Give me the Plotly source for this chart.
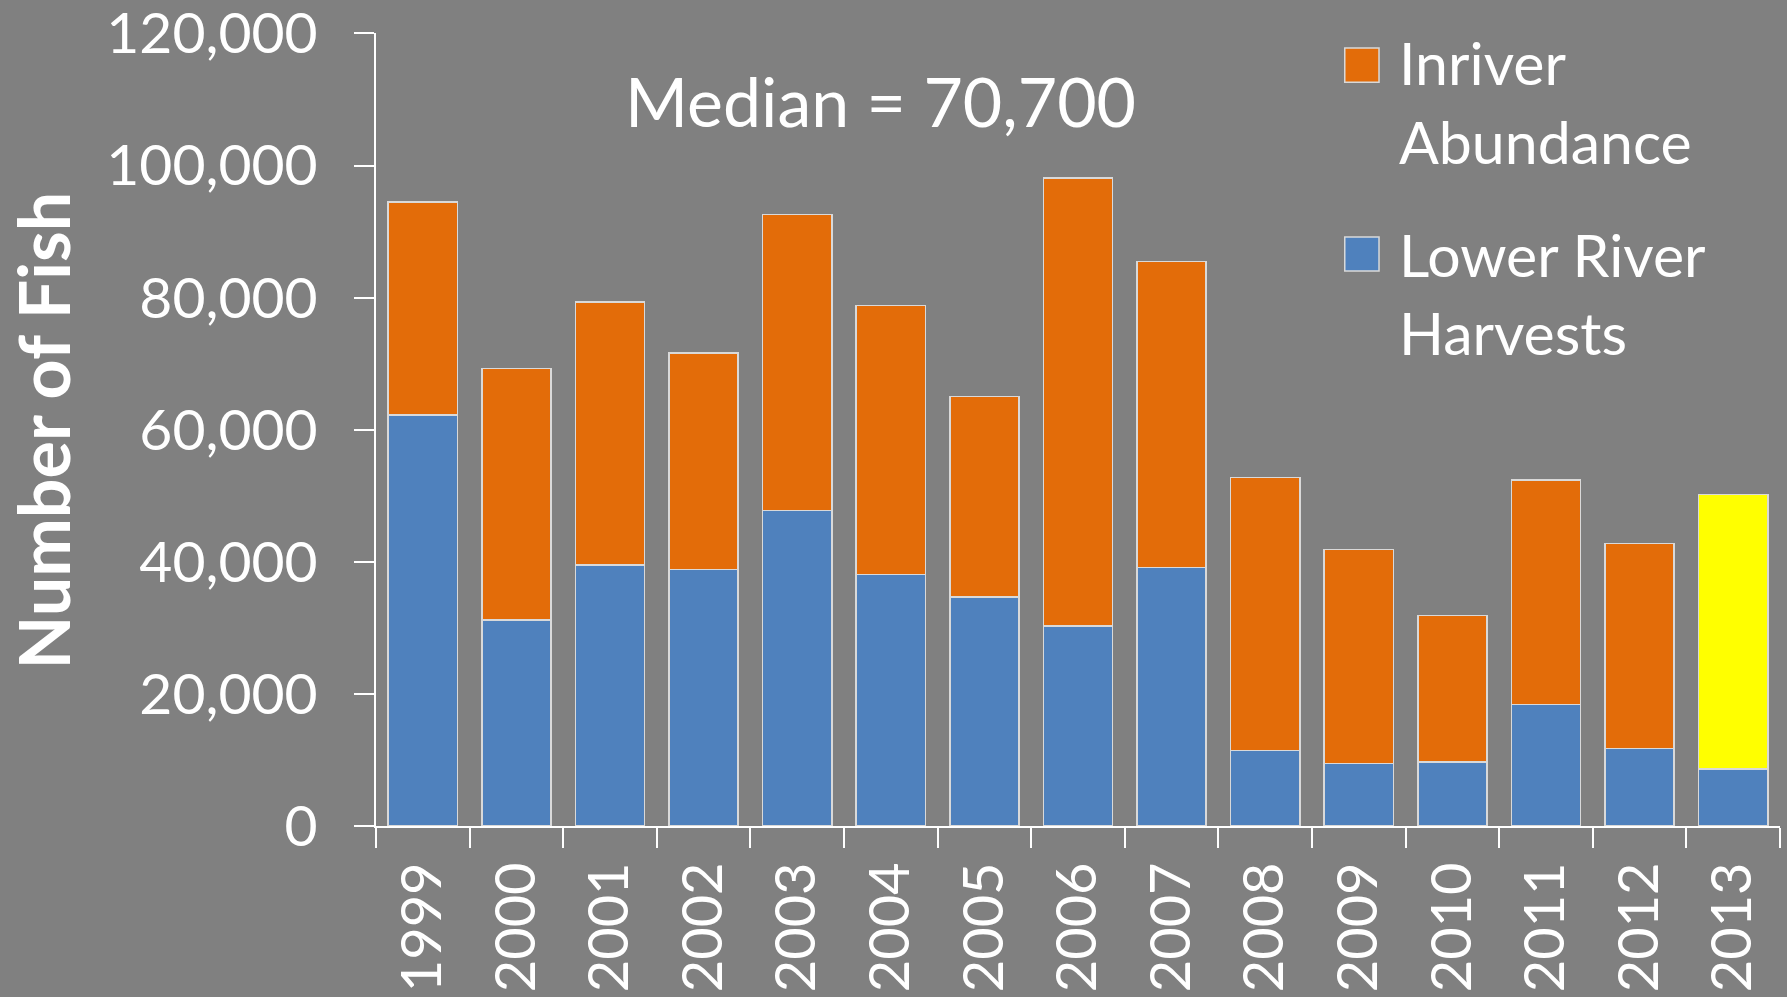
import plotly.graph_objects as go

years = ["1999", "2000", "2001", "2002", "2003", "2004", "2005", "2006",
         "2007", "2008", "2009", "2010", "2011", "2012", "2013"]
lower_river_harvests = [62200, 31200, 39500, 38800, 47800, 38100, 34700, 30300,
                        39100, 11400, 9500, 9700, 18400, 11700, 8600]
total_run = [94500, 69300, 79300, 71600, 92600, 78800, 65000, 98100,
             85500, 52800, 41900, 31900, 52400, 42800, 50200]
inriver_abundance = [t - h for t, h in zip(total_run, lower_river_harvests)]
y_ticks = [0, 20000, 40000, 60000, 80000, 100000, 120000]
median_label = "Median = 70,700"

BG = "#808080"
ORANGE = "#E36C09"
BLUE = "#4F81BD"
YELLOW = "#FFFF00"
EDGE = "#D9D9D9"
FONT = "Lato"

inriver_colors = [ORANGE] * (len(years) - 1) + [YELLOW]

fig = go.Figure()
fig.add_trace(go.Bar(x=years, y=lower_river_harvests, name="Lower River Harvests",
                     marker=dict(color=BLUE, line=dict(color=EDGE, width=1.5))))
fig.add_trace(go.Bar(x=years, y=inriver_abundance, name="Inriver Abundance",
                     marker=dict(color=inriver_colors, line=dict(color=EDGE, width=1.5))))

fig.update_layout(
    width=1787, height=997,
    barmode="stack", bargap=0.26,
    paper_bgcolor=BG, plot_bgcolor=BG,
    margin=dict(l=376, r=7, t=33, b=171, autoexpand=False),
    showlegend=False,
    font=dict(family=FONT, color="white", size=57),
)
fig.update_xaxes(
    type="category", tickson="boundaries", ticks="outside", ticklen=20,
    tickwidth=2, tickcolor="white", showline=True, linecolor="white", linewidth=2,
    tickangle=-90, tickfont=dict(family=FONT, size=56, color="white"),
    ticklabelstandoff=12, ticklabeloverflow="allow",
    showgrid=False, automargin=False,
)
fig.update_yaxes(
    range=[0, 120060], tickvals=y_ticks, tickformat=",d", ticks="outside",
    ticklen=20, tickwidth=2, tickcolor="white", showline=True, linecolor="white",
    linewidth=2, showgrid=False, zeroline=False, ticklabelstandoff=25,
    ticklabeloverflow="allow",
    tickfont=dict(family=FONT, size=57, color="white"), automargin=False,
)

# Y-axis title
fig.add_annotation(text="<b>Number of Fish</b>", xref="paper", yref="paper",
                   x=-0.237, y=0.499, textangle=-90, showarrow=False,
                   font=dict(family=FONT, size=70, color="white"),
                   xanchor="center", yanchor="middle")
# Median label
fig.add_annotation(text=median_label, xref="paper", yref="paper",
                   x=0.359, y=0.9155, showarrow=False,
                   font=dict(family=FONT, size=68, color="white"),
                   xanchor="center", yanchor="middle")

# Custom legend
legend_items = [
    (ORANGE, (0.981, 0.938), [("Inriver", 0.9622), ("Abundance", 0.8626)]),
    (BLUE, (0.7427, 0.6999), [("Lower River", 0.7213), ("Harvests", 0.6217)]),
]
for color, (ytop, ybot), lines in legend_items:
    fig.add_shape(type="rect", xref="paper", yref="paper",
                  x0=0.690, x1=0.7144, y0=ybot, y1=ytop,
                  fillcolor=color, line=dict(color=EDGE, width=1.5))
    for txt, yy in lines:
        fig.add_annotation(text=txt, xref="paper", yref="paper",
                           x=0.7272, y=yy, showarrow=False,
                           font=dict(family=FONT, size=59, color="white"),
                           xanchor="left", yanchor="middle")

fig.write_html("out.html", config={"displayModeBar": False},
               post_script="document.body.style.margin='0';")
